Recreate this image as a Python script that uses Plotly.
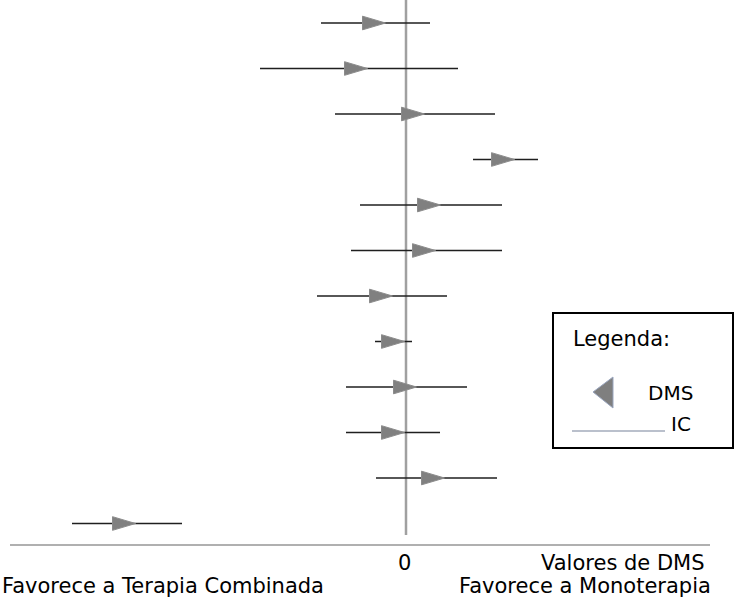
import plotly.graph_objects as go

# Data (DMS units; 0 = no difference)
rows = list(range(12))
dms = [-0.32, -0.50, 0.07, 0.97, 0.23, 0.18, -0.25, -0.13, -0.01, -0.13, 0.27, -2.82]
ic_lo = [-0.85, -1.46, -0.71, 0.67, -0.46, -0.55, -0.89, -0.31, -0.60, -0.60, -0.30, -3.34]
ic_hi = [0.24, 0.52, 0.89, 1.32, 0.96, 0.96, 0.41, 0.06, 0.61, 0.34, 0.91, -2.24]

W, H = 734, 600
FONT = "DejaVu Sans"
FS = 21

# interval segments
lx, ly = [], []
for r, a, b in zip(rows, ic_lo, ic_hi):
    lx += [a, b, None]
    ly += [r, r, None]

# triangle markers (right-pointing, wider than tall)
hw, hh = 0.115, 0.15
tx, ty = [], []
for r, c in zip(rows, dms):
    tx += [c - hw, c + hw, c - hw, c - hw, None]
    ty += [r - hh, r, r + hh, r - hh, None]

fig = go.Figure()
fig.add_trace(go.Scatter(x=lx, y=ly, mode="lines",
                         line=dict(color="#1f1f1f", width=1.7),
                         hoverinfo="skip", showlegend=False))
fig.add_trace(go.Scatter(x=tx, y=ty, mode="lines", fill="toself",
                         fillcolor="#808080", line=dict(color="#8c8c8c", width=1),
                         hoverinfo="skip", showlegend=False))

# legend decorations on a pixel-based overlay axis
fig.add_trace(go.Scatter(x=[593, 613, 613, 593], y=[392, 377, 408, 392],
                         xaxis="x2", yaxis="y2", mode="lines", fill="toself",
                         fillcolor="#7f7f7f", line=dict(color="#9aa6bf", width=1),
                         hoverinfo="skip", showlegend=False))
fig.add_trace(go.Scatter(x=[572, 665], y=[431, 431], xaxis="x2", yaxis="y2",
                         mode="lines", line=dict(color="#a3abbb", width=1.5),
                         hoverinfo="skip", showlegend=False))

px0 = 406
scale = 100.0
fig.update_layout(
    width=W, height=H,
    margin=dict(l=0, r=0, t=0, b=0),
    paper_bgcolor="white", plot_bgcolor="white",
    xaxis=dict(range=[-px0 / scale, (W - px0) / scale], visible=False, fixedrange=True),
    yaxis=dict(range=[(H - 23) / 45.5, -23 / 45.5], visible=False, fixedrange=True),
    xaxis2=dict(range=[0, W], overlaying="x", visible=False, fixedrange=True),
    yaxis2=dict(range=[H, 0], overlaying="y", visible=False, fixedrange=True),
    font=dict(family=FONT, size=FS, color="black"),
    hovermode=False,
)

shapes = [
    # zero line
    dict(type="line", xref="x", yref="paper", x0=0, x1=0, y0=1, y1=1 - 535 / H,
         line=dict(color="#a0a0a0", width=2.5), layer="below"),
    # axis line
    dict(type="line", xref="paper", yref="paper", x0=10 / W, x1=710 / W,
         y0=1 - 545 / H, y1=1 - 545 / H, line=dict(color="#b0b0b0", width=2), layer="below"),
    # legend box
    dict(type="rect", xref="paper", yref="paper", x0=553 / W, x1=733 / W,
         y0=1 - 448 / H, y1=1 - 313 / H, line=dict(color="black", width=2),
         fillcolor="rgba(0,0,0,0)"),
]
fig.update_layout(shapes=shapes)

def ann(text, x, y, xanchor="center", xref="paper", size=FS):
    return dict(text=text, x=x, y=1 - y / H, xref=xref, yref="paper",
                xanchor=xanchor, yanchor="middle", showarrow=False,
                font=dict(family=FONT, size=size, color="black"))

fig.update_layout(annotations=[
    ann("0", -0.02, 563, "center", xref="x"),
    ann("Valores de DMS", 707 / W, 563, "right"),
    ann("Favorece a Terapia Combinada", 0, 586, "left"),
    ann("Favorece a Monoterapia", 713 / W, 586, "right"),
    ann("Legenda:", 571 / W, 339, "left"),
    ann("DMS", 695 / W, 393, "right", size=20),
    ann("IC", 693 / W, 424, "right", size=20),
])

fig.write_html("out.html", config={"displayModeBar": False},
               post_script="document.body.style.margin='0';document.body.style.padding='0';")
